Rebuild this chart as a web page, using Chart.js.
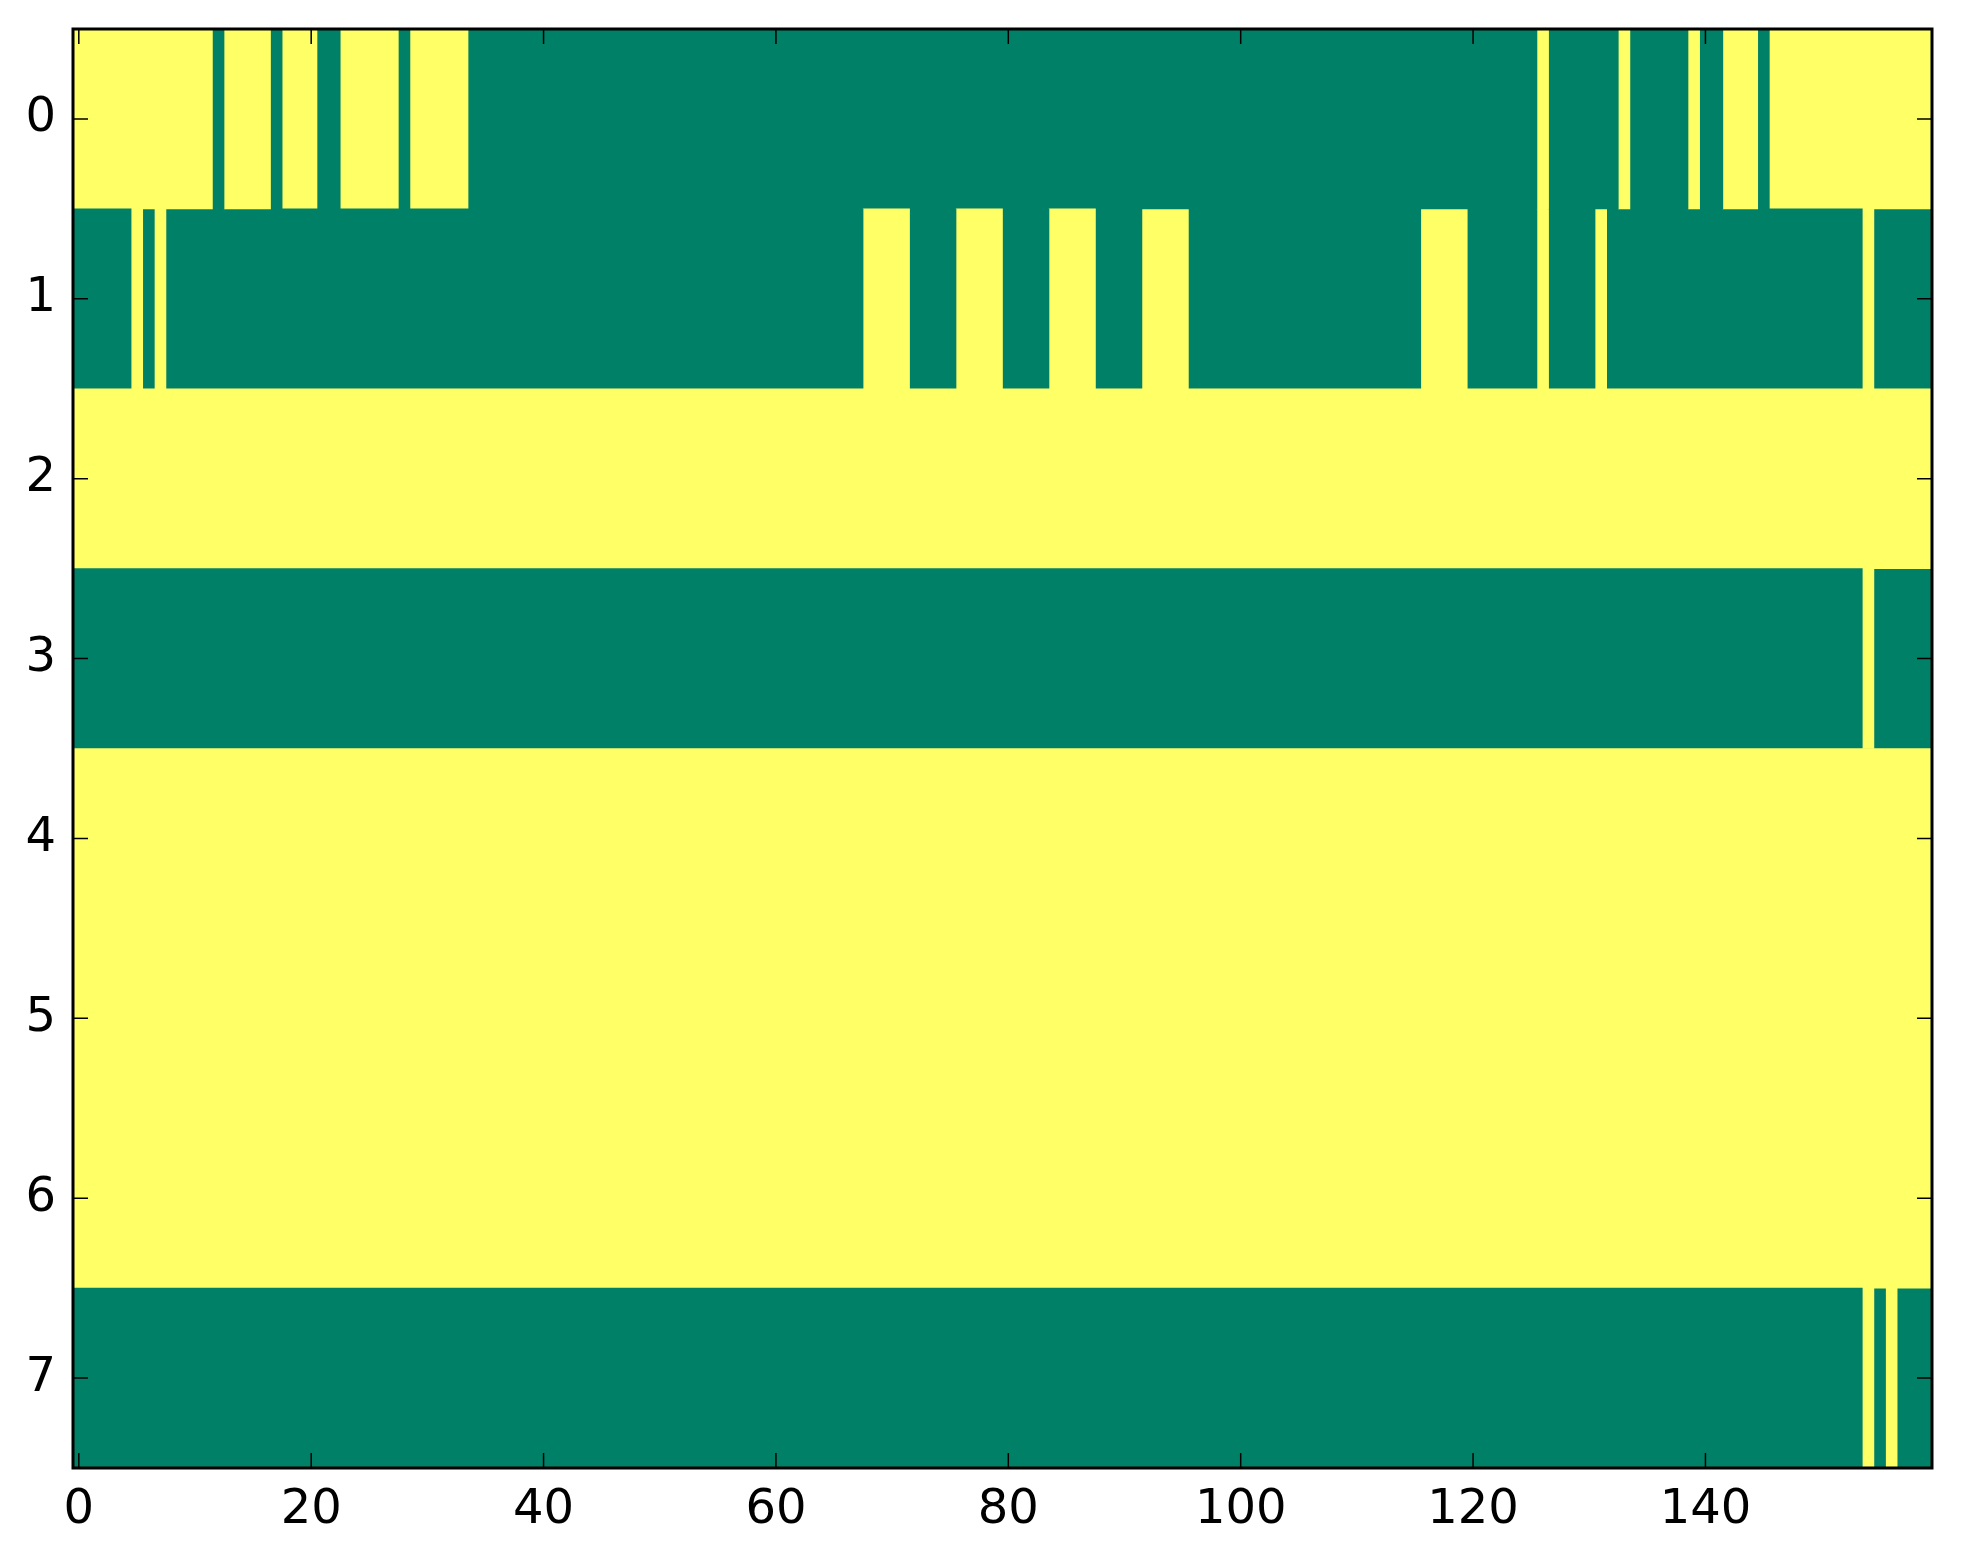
<!DOCTYPE html>
<html>
<head>
<meta charset="utf-8">
<script src="https://cdn.jsdelivr.net/npm/chart.js@4.4.1/dist/chart.umd.min.js"></script>
<style>
  html, body { margin: 0; padding: 0; background: #fff; }
  #wrap { width: 1963px; height: 1564px; }
</style>
</head>
<body>
<div id="wrap"><canvas id="grid"></canvas></div>
<script>
// one matrix row per array, written in blocks of ten columns (1 = yellow, 0 = green)
const row0 = ['1111111111','1101111011','1001111101','1111000000','0000000000','0000000000','0000000000','0000000000',
              '0000000000','0000000000','0000000000','0000000000','0000001000','0001000001','0011101111','1111111111'];
const row1 = ['0000010100','0000000000','0000000000','0000000000','0000000000','0000000000','0000000011','1100001111',
              '0000111100','0011110000','0000000000','0000001111','0000001000','0100000000','0000000000','0000100000'];
const row2 = ['1111111111','1111111111','1111111111','1111111111','1111111111','1111111111','1111111111','1111111111',
              '1111111111','1111111111','1111111111','1111111111','1111111111','1111111111','1111111111','1111111111'];
const row3 = ['0000000000','0000000000','0000000000','0000000000','0000000000','0000000000','0000000000','0000000000',
              '0000000000','0000000000','0000000000','0000000000','0000000000','0000000000','0000000000','0000100000'];
const row4 = ['1111111111','1111111111','1111111111','1111111111','1111111111','1111111111','1111111111','1111111111',
              '1111111111','1111111111','1111111111','1111111111','1111111111','1111111111','1111111111','1111111111'];
const row5 = ['1111111111','1111111111','1111111111','1111111111','1111111111','1111111111','1111111111','1111111111',
              '1111111111','1111111111','1111111111','1111111111','1111111111','1111111111','1111111111','1111111111'];
const row6 = ['1111111111','1111111111','1111111111','1111111111','1111111111','1111111111','1111111111','1111111111',
              '1111111111','1111111111','1111111111','1111111111','1111111111','1111111111','1111111111','1111111111'];
const row7 = ['0000000000','0000000000','0000000000','0000000000','0000000000','0000000000','0000000000','0000000000',
              '0000000000','0000000000','0000000000','0000000000','0000000000','0000000000','0000000000','0000101000'];

const rowLabels = ['0', '1', '2', '3', '4', '5', '6', '7'];
const xTickValues = [0, 20, 40, 60, 80, 100, 120, 140];
const cellColors = ['#008066', '#ffff66']; // matplotlib "summer" at 0 and 1

const matrix = [row0, row1, row2, row3, row4, row5, row6, row7].map((r) => r.join('').split('').map(Number));
const colCount = matrix[0].length;

// collapse each row into runs of equal value so neighbouring cells don't leave seams
const runs = matrix.map((row) => {
  const out = [];
  let start = 0;
  for (let c = 1; c <= row.length; c++) {
    if (c === row.length || row[c] !== row[start]) {
      out.push({ v: row[start], from: start, to: c - 1 });
      start = c;
    }
  }
  return out;
});
const maxRuns = Math.max(...runs.map((r) => r.length));

// green underlay for every row (drawn first), then the runs on top of it
const datasets = [{
  data: matrix.map(() => [-0.5, colCount - 0.5]),
  backgroundColor: cellColors[0],
  order: 1
}];
for (let k = 0; k < maxRuns; k++) {
  datasets.push({
    data: runs.map((r) => (r[k] ? [r[k].from - 0.5, r[k].to + 0.5] : null)),
    backgroundColor: runs.map((r) => (r[k] ? cellColors[r[k].v] : 'rgba(0,0,0,0)')),
    order: 0
  });
}

const framePlugin = {
  id: 'frame',
  afterDatasetsDraw(chart) {
    const { ctx, chartArea: a, scales: { x, y } } = chart;
    const len = 15;
    ctx.save();
    ctx.strokeStyle = '#000';
    ctx.lineWidth = 1.5;
    ctx.beginPath();
    x.ticks.forEach((t) => {
      const px = x.getPixelForValue(t.value);
      ctx.moveTo(px, a.bottom); ctx.lineTo(px, a.bottom - len);
      ctx.moveTo(px, a.top); ctx.lineTo(px, a.top + len);
    });
    y.ticks.forEach((t, i) => {
      const py = y.getPixelForTick(i);
      ctx.moveTo(a.left, py); ctx.lineTo(a.left + len, py);
      ctx.moveTo(a.right, py); ctx.lineTo(a.right - len, py);
    });
    ctx.stroke();
    ctx.lineWidth = 3;
    ctx.strokeRect(a.left, a.top, a.right - a.left, a.bottom - a.top);
    ctx.restore();
  }
};

const tickFont = { family: 'DejaVu Sans', size: 48 };

new Chart(document.getElementById('grid'), {
  type: 'bar',
  data: { labels: rowLabels, datasets },
  options: {
    indexAxis: 'y',
    responsive: true,
    maintainAspectRatio: false,
    devicePixelRatio: 1,
    animation: false,
    grouped: false,
    barPercentage: 1,
    categoryPercentage: 1,
    borderWidth: 0,
    layout: { padding: { top: 29, right: 31, left: 0, bottom: 0 } },
    plugins: { legend: { display: false }, tooltip: { enabled: false } },
    scales: {
      x: {
        type: 'linear',
        position: 'bottom',
        min: -0.5,
        max: colCount - 0.5,
        grid: { display: false },
        border: { display: false },
        afterBuildTicks: (s) => { s.ticks = xTickValues.map((v) => ({ value: v })); },
        afterFit: (s) => { s.height = 96; s.paddingLeft = 0; s.paddingRight = 0; },
        ticks: { color: '#000', font: tickFont, padding: 6, maxRotation: 0 }
      },
      y: {
        type: 'category',
        offset: true,
        grid: { display: false },
        border: { display: false },
        afterFit: (s) => { s.width = 73; s.paddingTop = 0; s.paddingBottom = 0; },
        ticks: { color: '#000', font: tickFont, padding: 9 }
      }
    }
  },
  plugins: [framePlugin]
});
</script>
</body>
</html>
